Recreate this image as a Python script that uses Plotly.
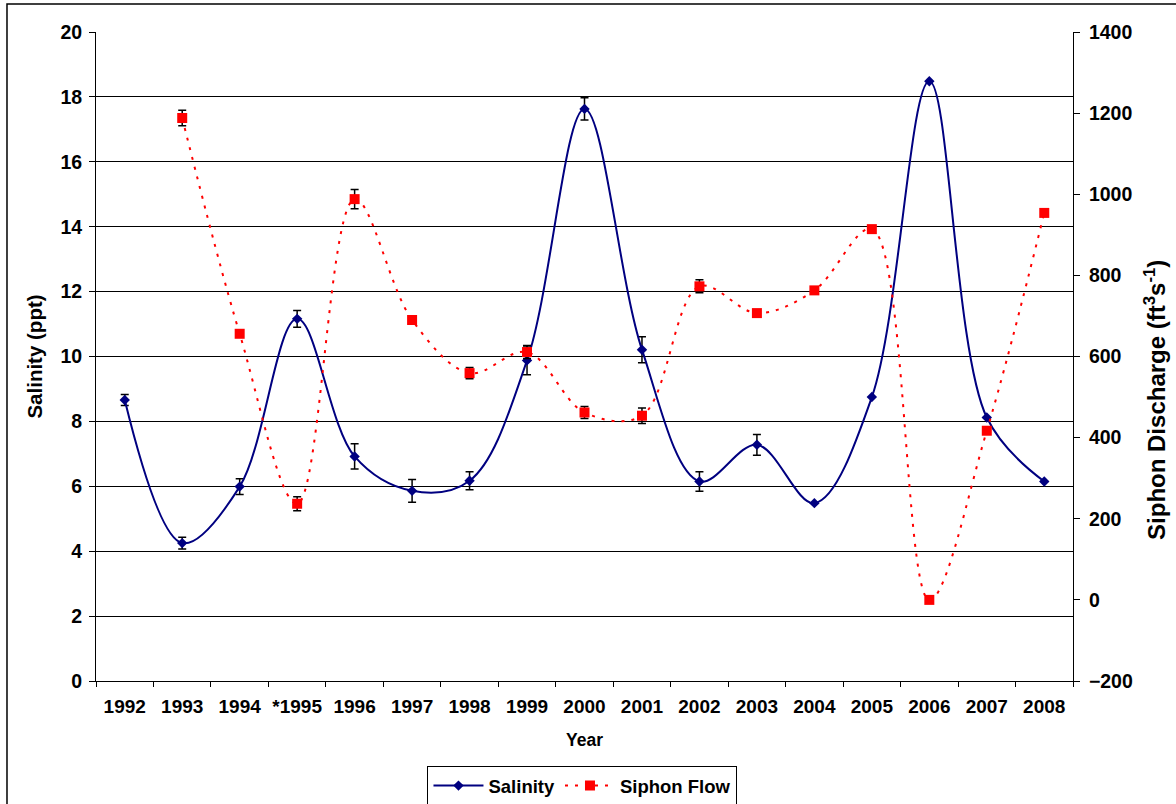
import plotly.graph_objects as go

years = ["1992", "1993", "1994", "*1995", "1996", "1997", "1998", "1999", "2000",
         "2001", "2002", "2003", "2004", "2005", "2006", "2007", "2008"]
salinity = [8.66, 4.25, 5.99, 11.16, 6.92, 5.86, 6.17, 9.88, 17.63,
            10.21, 6.15, 7.28, 5.48, 8.75, 18.48, 8.12, 6.15]
salinity_err = [0.17, 0.18, 0.24, 0.26, 0.39, 0.35, 0.28, 0.44, 0.34,
                0.40, 0.30, 0.32, 0.0, 0.0, 0.0, 0.0, 0.0]
siphon = [None, 1188, 656, 237, 988, 690, 559, 611, 462,
          454, 773, 707, 763, 914, 0, 417, 954]
siphon_err = [0, 19, 0, 17, 24, 0, 14, 16, 15,
              19, 16, 0, 0, 0, 0, 0, 0]

FONT = "Liberation Sans, Arial, sans-serif"

fig = go.Figure()
fig.add_trace(go.Scatter(
    x=years, y=salinity, name="Salinity", mode="lines+markers",
    line=dict(color="#000080", width=2, shape="spline", smoothing=1.0),
    marker=dict(symbol="diamond", size=8, color="#000080"),
    error_y=dict(type="data", array=salinity_err, visible=True,
                 color="black", thickness=1.5, width=4),
    yaxis="y"))
fig.add_trace(go.Scatter(
    x=years, y=siphon, name="Siphon Flow", mode="lines+markers",
    line=dict(color="#FF0000", width=2, dash="3px,7px", shape="spline", smoothing=1.0),
    marker=dict(symbol="square", size=10, color="#FF0000"),
    error_y=dict(type="data", array=siphon_err, visible=True,
                 color="black", thickness=1.5, width=4),
    yaxis="y2"))

fig.update_layout(
    width=1176, height=804,
    margin=dict(l=96, r=103, t=32, b=123, autoexpand=False),
    paper_bgcolor="white", plot_bgcolor="white",
    font=dict(family=FONT, size=18, color="black", weight="bold"),
    showlegend=True,
    legend=dict(orientation="h", xref="container", yref="container",
                x=0.4953, xanchor="center", y=0.0472, yanchor="top",
                bordercolor="black", borderwidth=1, font=dict(size=18.5, weight="bold"),
                itemwidth=50, tracegroupgap=0),
    xaxis=dict(type="category", categoryorder="array", categoryarray=years,
               showgrid=False, showline=True, linecolor="black", linewidth=1,
               ticks="outside", ticklen=5, tickcolor="black", tickson="boundaries",
               tickfont=dict(size=19, weight="bold"), ticklabelstandoff=8, tickangle=0,
               title=dict(text="Year", font=dict(size=17.5, weight="bold"), standoff=17),
               range=[-0.5, 16.5], zeroline=False),
    yaxis=dict(range=[0, 20], dtick=2, tick0=0, showgrid=True, gridcolor="black", gridwidth=1,
               showline=True, linecolor="black", linewidth=1, ticks="outside", ticklen=6,
               tickcolor="black", zeroline=False, ticklabelstandoff=3,
               tickfont=dict(size=19.5, weight="bold"),
               title=dict(text="Salinity (ppt)", font=dict(size=20.5, weight="bold"), standoff=12)),
    yaxis2=dict(range=[-200, 1400], dtick=200, tick0=0, overlaying="y", side="right",
                showgrid=False, showline=True, linecolor="black", linewidth=1,
                ticks="outside", ticklen=6, tickcolor="black", zeroline=False,
                ticklabelstandoff=5,
                tickfont=dict(size=19.5, weight="bold")),
    annotations=[dict(text="Siphon Discharge (ft<sup>3</sup>s<sup>-1</sup>)",
                      xref="paper", yref="paper", x=1.0839, y=0.433,
                      xanchor="center", yanchor="middle", textangle=-90,
                      showarrow=False, font=dict(size=24, weight="bold"))],
    shapes=[dict(type="rect", xref="paper", yref="paper",
                 x0=-0.0911, x1=1.3, y0=-0.5, y1=1.0431,
                 line=dict(color="black", width=1.5), layer="below")],
)

fig.write_html("out.html", config={"displayModeBar": False},
               post_script="document.body.style.margin='0';")
